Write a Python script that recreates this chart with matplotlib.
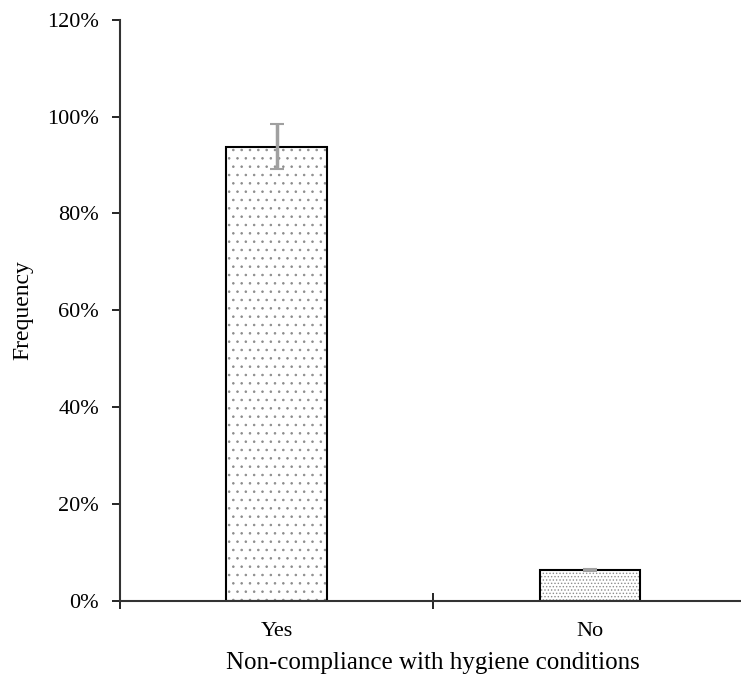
import matplotlib.pyplot as plt
from matplotlib.ticker import PercentFormatter

plt.rcParams['font.family'] = ['Liberation Serif', 'DejaVu Serif']
plt.rcParams['hatch.linewidth'] = 0.6

categories = ["Yes", "No"]
freq = [93.8, 6.4]
err = [4.6, 0.2]
hatches = ['..', '.....']

fig = plt.figure(figsize=(7.41, 6.82), dpi=100)
ax = fig.add_axes([0.162, 0.119, 0.845, 0.852])

x = list(range(len(categories)))
for i in x:
    # hatch layer (hatch color follows edgecolor), then the black outline
    ax.bar(i, freq[i], width=0.32, color='white', edgecolor='#8c8c8c',
           linewidth=0, hatch=hatches[i], zorder=2)
    ax.bar(i, freq[i], width=0.32, fill=False, edgecolor='black',
           linewidth=1.5, zorder=2.5)
ax.errorbar(x, freq, yerr=err, fmt='none', ecolor='#a0a0a0',
            elinewidth=2.5, capsize=5, capthick=1.5, zorder=3)

ax.set_xlim(-0.5, 1.5)
ax.set_ylim(0, 120)
ax.set_yticks(range(0, 121, 20))
ax.yaxis.set_major_formatter(PercentFormatter(decimals=0))
ax.set_xticks([-0.5, 0.5, 1.5])
ax.set_xticklabels([])
ax.set_xticks(x, minor=True)
ax.set_xticklabels(categories, minor=True)
ax.tick_params(axis='x', which='minor', length=0, pad=15, labelsize=16)
ax.tick_params(axis='x', which='major', length=11, direction='inout', width=1.2)
ax.tick_params(axis='y', length=6, direction='out', labelsize=16, width=1.2, pad=9)

for s in ['top', 'right']:
    ax.spines[s].set_visible(False)
for s in ['left', 'bottom']:
    ax.spines[s].set_linewidth(1.5)
    ax.spines[s].set_color('#333333')

ax.set_xlabel("Non-compliance with hygiene conditions", fontsize=18, labelpad=8)
ax.set_ylabel("Frequency", fontsize=17, labelpad=10)

fig.savefig("out.png", dpi=100)
